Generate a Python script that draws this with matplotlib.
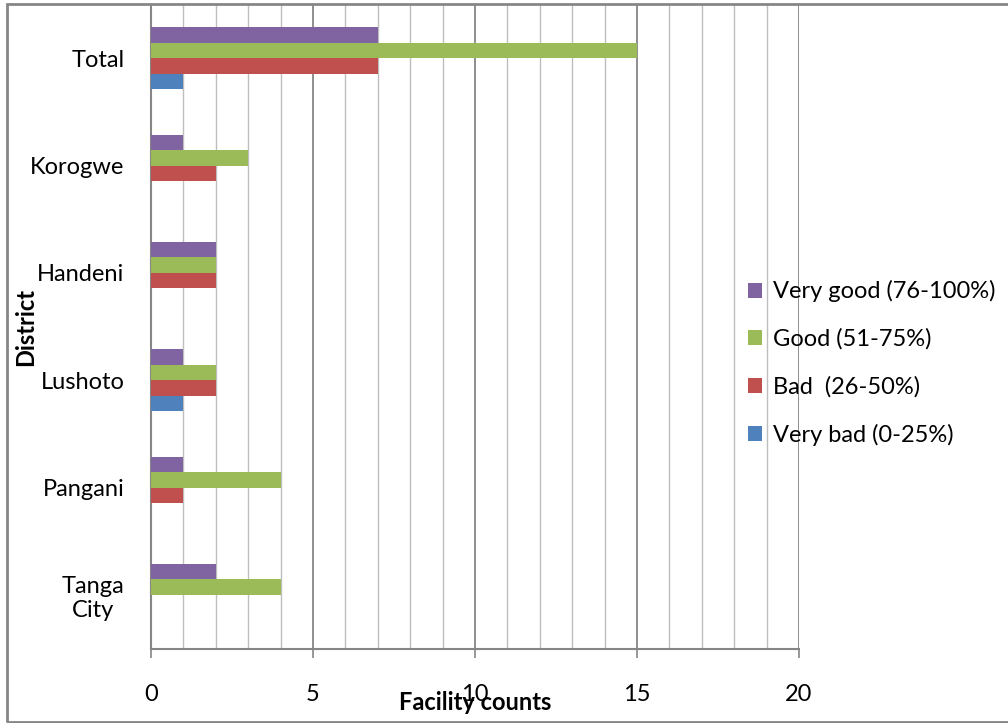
import matplotlib.pyplot as plt
from matplotlib.patches import Rectangle
from matplotlib.ticker import MultipleLocator
import numpy as np

plt.rcParams['font.family'] = ['Lato', 'DejaVu Sans']

districts = ['Tanga\nCity', 'Pangani', 'Lushoto', 'Handeni', 'Korogwe', 'Total']
very_bad = [0, 0, 1, 0, 0, 1]
bad = [0, 1, 2, 2, 2, 7]
good = [4, 4, 2, 2, 3, 15]
very_good = [2, 1, 1, 2, 1, 7]

series = [
    ('Very bad (0-25%)', very_bad, '#4F81BD'),
    ('Bad  (26-50%)', bad, '#C0504D'),
    ('Good (51-75%)', good, '#9BBB59'),
    ('Very good (76-100%)', very_good, '#8064A2'),
]

fs = 17

fig = plt.figure(figsize=(10.08, 7.23), dpi=100)
ax = fig.add_axes([151 / 1008, 1 - 648.5 / 723, 648 / 1008, 644 / 723])

y = np.arange(len(districts))
h = 0.144
handles = []
for i, (name, vals, color) in enumerate(series):
    b = ax.barh(y + (i - 1.5) * h, vals, height=h, color=color, label=name, zorder=3)
    handles.append(b)

ax.set_xlim(0, 20)
ax.set_ylim(-0.5, 5.5)
ax.set_yticks(y)
ax.set_yticklabels(districts, fontsize=fs, multialignment='center')
ax.xaxis.set_major_locator(MultipleLocator(5))
ax.xaxis.set_minor_locator(MultipleLocator(1))
ax.tick_params(axis='x', which='major', length=6.5, width=1.2, color='#868686',
               labelsize=fs, pad=19)
ax.tick_params(axis='x', which='minor', length=0)
ax.tick_params(axis='y', length=0, pad=19)

ax.grid(axis='x', which='minor', color='#BEBEBE', linewidth=1.0, zorder=0)
ax.grid(axis='x', which='major', color='#868686', linewidth=1.3, zorder=0)
ax.set_axisbelow(True)

for s in ['top', 'right']:
    ax.spines[s].set_visible(False)
for s in ['left', 'bottom']:
    ax.spines[s].set_color('#868686')
    ax.spines[s].set_linewidth(1.5)

ax.set_xlabel('Facility counts', fontsize=fs, fontweight='bold', labelpad=-10)
ax.set_ylabel('District', fontsize=fs, fontweight='bold')
ax.yaxis.set_label_coords(-0.176, 0.499)

ax.legend(handles[::-1], [s[0] for s in series[::-1]], loc='center left',
          bbox_to_anchor=(0.742, 0.498), bbox_transform=fig.transFigure,
          frameon=False, fontsize=fs, handlelength=0.6, handleheight=0.6,
          handletextpad=0.45, labelspacing=1.1, borderpad=0, borderaxespad=0)

# outer chart border
fig.patches.append(Rectangle((7 / 1008, 1 / 723), 1.1, 718 / 723,
                             transform=fig.transFigure, fill=False,
                             edgecolor='#868686', linewidth=2))

fig.savefig('out.png', dpi=100)
